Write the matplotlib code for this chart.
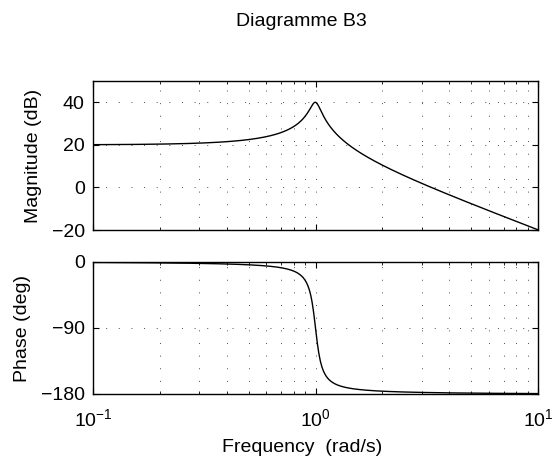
import numpy as np
import matplotlib
matplotlib.use('Agg')
import matplotlib.pyplot as plt
from matplotlib.ticker import LogLocator, NullFormatter

# second order system: H(s) = 10 / (s^2 + 0.1 s + 1)
NUM = [10.0]
DEN = [1.0, 0.1, 1.0]
W_MIN, W_MAX = 0.1, 10.0
MAG_TICKS = [-20, 0, 20, 40]
PHASE_TICKS = [-180, -90, 0]
TITLE = 'Diagramme B3'

plt.rcParams['font.family'] = ['Liberation Sans', 'DejaVu Sans']
plt.rcParams['mathtext.fontset'] = 'custom'
plt.rcParams['mathtext.rm'] = 'Liberation Sans'
plt.rcParams['mathtext.it'] = 'Liberation Sans'
plt.rcParams['font.size'] = 14


def freq_response(num, den, w):
    s = 1j * w
    h = np.polyval(num, s) / np.polyval(den, s)
    mag_db = 20 * np.log10(np.abs(h))
    phase = np.degrees(np.unwrap(np.angle(h)))
    return mag_db, phase


def style_axis(ax, ylim, yticks):
    ax.set_xscale('log')
    ax.set_xlim(W_MIN, W_MAX)
    ax.set_ylim(*ylim)
    ax.set_yticks(yticks)
    ax.xaxis.set_major_locator(LogLocator(base=10, numticks=5))
    ax.xaxis.set_minor_locator(LogLocator(base=10, subs=np.arange(2, 10), numticks=20))
    ax.xaxis.set_minor_formatter(NullFormatter())
    ax.tick_params(which='both', direction='in', top=True, right=True, length=4, pad=6)
    ax.tick_params(axis='x', which='major', pad=10)
    ax.tick_params(which='minor', length=2)
    ax.grid(True, which='major', axis='both', color='0.3', linestyle=(0, (1, 12)), linewidth=0.7)
    ax.grid(True, which='minor', axis='x', color='0.3', linestyle=(0, (1, 12)), linewidth=0.7)
    for sp in ax.spines.values():
        sp.set_linewidth(1.0)


w = np.logspace(np.log10(W_MIN), np.log10(W_MAX), 600)
mag_db, phase = freq_response(NUM, DEN, w)

fig = plt.figure(figsize=(5.55, 4.63), dpi=100)
ax_mag = fig.add_axes([93 / 555, 1 - 230 / 463, 445 / 555, 149 / 463])
ax_ph = fig.add_axes([93 / 555, 1 - 394 / 463, 445 / 555, 132 / 463])

ax_mag.plot(w, mag_db, color='black', linewidth=1.0)
style_axis(ax_mag, (-20, 50), MAG_TICKS)
ax_mag.set_xticklabels([])
ax_mag.set_ylabel('Magnitude (dB)', labelpad=7)

ax_ph.plot(w, phase, color='black', linewidth=1.0)
style_axis(ax_ph, (-180, 0), PHASE_TICKS)
ax_ph.set_ylabel('Phase (deg)', labelpad=7)
ax_ph.set_xlabel('Frequency  (rad/s)')
ax_ph.xaxis.set_label_coords((302 - 93) / 445, -(439 - 394) / 132)

fig.text(301 / 555, 1 - 22 / 463, TITLE, ha='center', va='center', fontsize=14)

fig.savefig('out.png', dpi=100)
